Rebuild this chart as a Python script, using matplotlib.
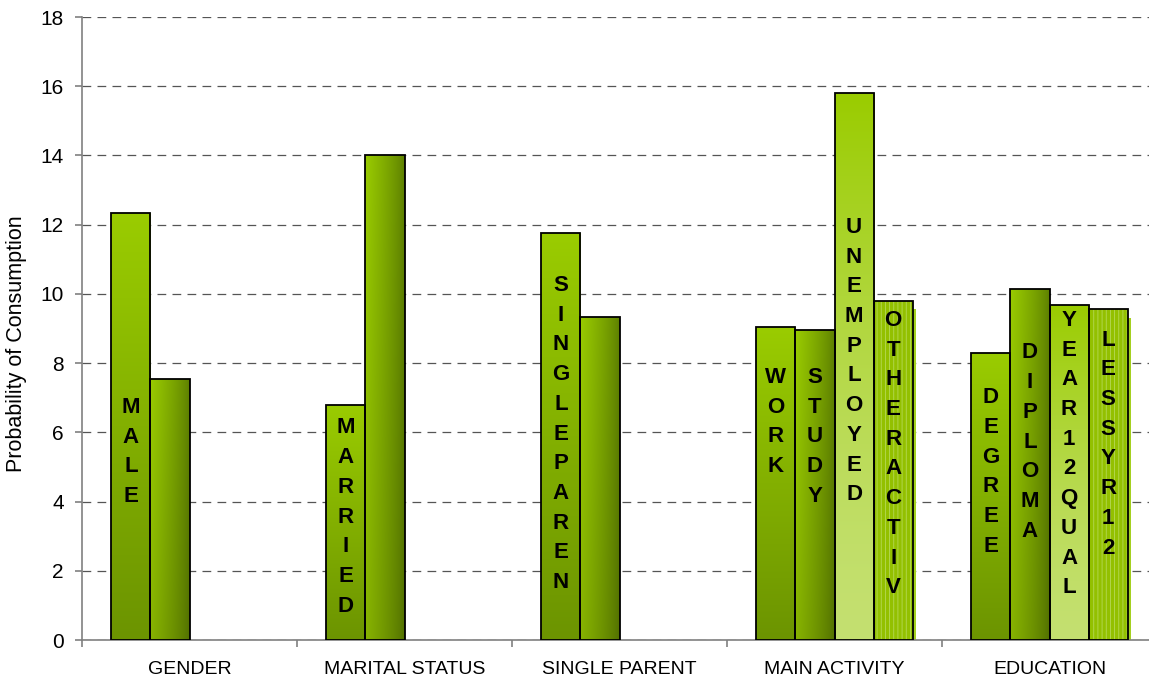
import numpy as np
import matplotlib
matplotlib.use("Agg")
from matplotlib import pyplot as plt
from matplotlib.patches import Rectangle
from matplotlib.colors import to_rgb

plt.rcParams['font.family'] = ['Liberation Sans', 'DejaVu Sans']
plt.rcParams['hatch.linewidth'] = 0.6

# data
groups = ["GENDER", "MARITAL STATUS", "SINGLE PARENT", "MAIN ACTIVITY", "EDUCATION"]
slot1 = [12.33, 6.80, 11.75, 9.05, 8.30]
slot2 = [7.55, 14.00, 9.33, 8.95, 10.14]
slot3 = [None, None, None, 15.80, 9.68]
slot4 = [None, None, None, 9.80, 9.56]

labels1 = ["MALE", "MARRIED", "SINGLEPAREN", "WORK", "DEGREE"]
labels2 = ["", "", "", "STUDY", "DIPLOMA"]
labels3 = ["", "", "", "UNEMPLOYED", "YEAR12QUAL"]
labels4 = ["", "", "", "OTHERACTIV", "LESSYR12"]

# where the middle of each stacked label sits (y units)
label_mid1 = [5.43, 3.55, 5.95, 6.30, 4.85]
label_mid2 = [0, 0, 0, 5.87, 5.72]
label_mid3 = [0, 0, 0, 8.06, 5.37]
label_mid4 = [0, 0, 0, 5.37, 5.66]

series = [slot1, slot2, slot3, slot4]
series_labels = [labels1, labels2, labels3, labels4]
series_mids = [label_mid1, label_mid2, label_mid3, label_mid4]

light = np.array(to_rgb("#9acc00"))
dark1 = np.array(to_rgb("#6c9400"))
dark2 = np.array(to_rgb("#5c7e00"))
pale3 = np.array(to_rgb("#c4e070"))


def gradient(kind):
    n = 128
    t = np.linspace(0, 1, n)
    if kind == 0:   # top light -> bottom darker
        col = light[None, :] * (1 - t[:, None]) + dark1[None, :] * t[:, None]
        return col[:, None, :]
    if kind == 1:   # left light -> right dark, a bit darker at the bottom
        h = light[None, :] * (1 - t[:, None]) ** 0.8 + dark2[None, :] * (1 - (1 - t[:, None]) ** 0.8)
        v = 1 - 0.12 * t
        img = h[None, :, :] * v[:, None, None]
        return img
    if kind == 2:   # top green -> bottom pale
        col = light[None, :] * (1 - t[:, None]) ** 1.5 + pale3[None, :] * (1 - (1 - t[:, None]) ** 1.5)
        return col[:, None, :]


fig = plt.figure(figsize=(11.49, 6.83), dpi=100)
ax = fig.add_axes([82 / 1149, 43 / 683, 1075 / 1149, 623 / 683])

w = 1 / 5.5
x = np.arange(len(groups))

for k, vals in enumerate(series):
    for i, v in enumerate(vals):
        if v is None:
            continue
        x0 = x[i] + (k - 2) * w
        if k == 3:
            sh = Rectangle((x0 + 0.014, 0), w, v - 0.25, facecolor="#a4d020",
                           edgecolor="none", zorder=2)
            ax.add_patch(sh)
            base = Rectangle((x0, 0), w, v, facecolor="#93c000", edgecolor="#b6d958",
                             linewidth=0, hatch="||||", zorder=3)
            ax.add_patch(base)
        else:
            clip = Rectangle((x0, 0), w, v, facecolor="none", edgecolor="none")
            ax.add_patch(clip)
            im = ax.imshow(gradient(k), extent=[x0, x0 + w, 0, v], aspect="auto",
                           origin="upper", zorder=3, interpolation="bilinear")
            im.set_clip_path(clip)
        ax.add_patch(Rectangle((x0, 0), w, v, facecolor="none", edgecolor="black",
                               linewidth=1.3, zorder=4))
        txt = series_labels[k][i]
        if txt:
            n = len(txt)
            step = 21.4
            for j, ch in enumerate(txt):
                ax.annotate(ch, xy=(x0 + w / 2, series_mids[k][i]),
                            xytext=(0, ((n - 1) / 2 - j) * step), textcoords="offset points",
                            ha="center", va="center", fontsize=16, fontweight="bold",
                            zorder=5)

ax.set_xlim(-0.5, 4.5)
ax.set_ylim(0, 18)
ax.set_yticks(np.arange(0, 19, 2))
ax.set_xticks(x)
ax.set_xticklabels(groups, fontsize=14)
ax.set_xticks(np.arange(-0.5, 5, 1), minor=True)
ax.tick_params(axis="x", which="major", length=0, pad=15)
ax.tick_params(axis="x", which="minor", length=5, width=1.2, color="#808080")
ax.tick_params(axis="y", length=5, width=1.2, color="#808080", labelsize=15, pad=8)

ax.yaxis.grid(True, linestyle=(0, (7, 5)), color="#555555", linewidth=0.9)
ax.set_axisbelow(True)
for s in ["top", "right"]:
    ax.spines[s].set_visible(False)
for s in ["left", "bottom"]:
    ax.spines[s].set_color("#808080")
    ax.spines[s].set_linewidth(1.2)

ax.set_ylabel("Probability of Consumption", fontsize=15.5)
ax.yaxis.set_label_coords(-0.051, 0.475)

plt.savefig("out.png", dpi=100)
